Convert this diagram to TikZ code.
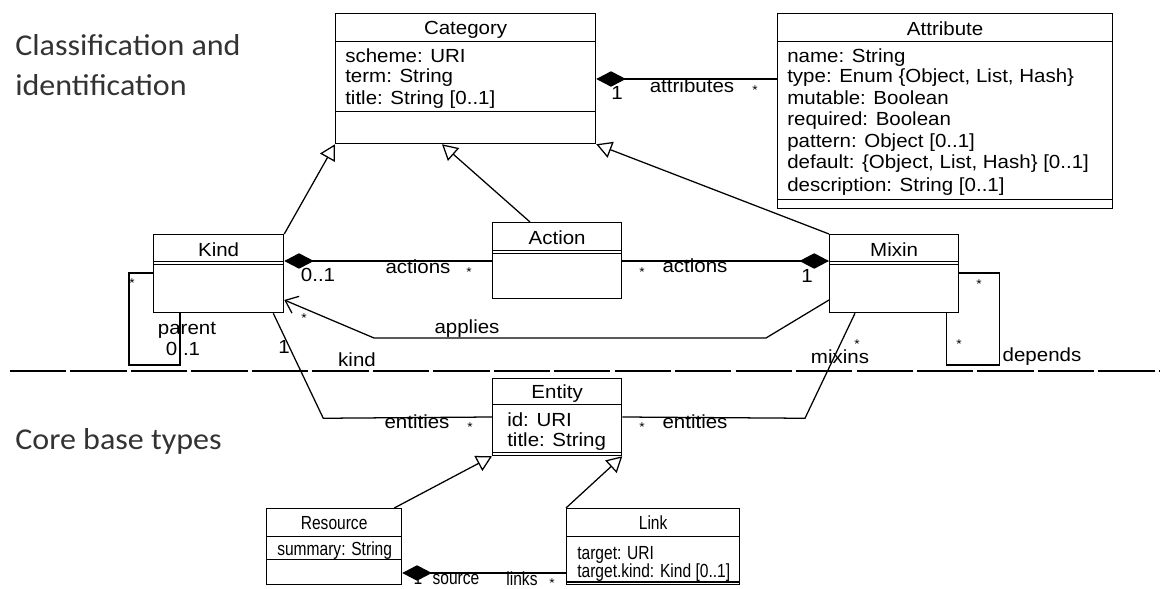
\documentclass[tikz,border=0pt]{standalone}
\usepackage{fontspec}
\usepackage{tikz}
\usetikzlibrary{arrows.meta,calc}
\newfontfamily\umlfont[FakeStretch=1.08]{Liberation Sans}
\newfontfamily\umlsmallfont[FakeStretch=0.82]{Liberation Sans}
\newfontfamily\titlefont[FakeStretch=1.06]{Carlito}
\newlength{\pxu}
\setlength{\pxu}{0.025cm}

\tikzset{
  classbox/.style={draw, line width=0.9pt, anchor=north west, inner sep=0pt},
  classname/.style={font=\umlfont\fontsize{13.5}{15}\selectfont, anchor=base, inner sep=0pt},
  attr/.style={font=\umlfont\fontsize{13.5}{15}\selectfont, anchor=base west, inner sep=0pt},
  lbl/.style={font=\umlfont\fontsize{13.5}{15}\selectfont, inner sep=0pt},
  small/.style={font=\umlsmallfont\fontsize{13.5}{15}\selectfont},
  mult/.style={font=\umlfont\fontsize{9}{10}\selectfont, inner sep=0pt},
  conn/.style={line width=0.9pt},
  gen/.style={conn, -{Triangle[open, length=11pt, width=12pt]}},
  comp/.style={conn, {Diamond[length=21pt, width=11pt]}-},
  uses/.style={conn, -{Straight Barb[length=8pt, width=13pt]}},
  sepline/.style={line width=0.9pt, dash pattern=on 40pt off 3pt},
  section/.style={font=\titlefont\fontsize{21.5}{25}\selectfont, text=black!80, anchor=base west, inner sep=0pt}
}

\begin{document}
\begin{tikzpicture}[x=0.025cm, y=-0.025cm]
\useasboundingbox (0,0) rectangle (1160,589);

% section titles
\node[section] (sec1) at (15,56) {Classification and};
\node[section] (sec2) at (15,96) {identification};
\node[section] (sec3) at (15,450) {Core base types};
\draw[sepline] (10,371) -- (1160,371);

% classes
\node[classbox, minimum width=260\pxu, minimum height=130\pxu] (cat) at (335,13) {};
\draw ($(cat.north west)+(0,28)$) -- ($(cat.north east)+(0,28)$);
\draw ($(cat.north west)+(0,98)$) -- ($(cat.north east)+(0,98)$);
\node[classname] (catname) at ($(cat.north)+(0,22)$) {Category};
\node[attr] (cat1) at (345,63) {scheme: URI};
\node[attr] (cat2) at (345,83) {term: String};
\node[attr] (cat3) at (345,105) {title: String [0..1]};

\node[classbox, minimum width=335\pxu, minimum height=195\pxu] (attr) at (777,13) {};
\draw ($(attr.north west)+(0,28)$) -- ($(attr.north east)+(0,28)$);
\draw ($(attr.north west)+(0,186)$) -- ($(attr.north east)+(0,186)$);
\node[classname] (attrname) at ($(attr.north)+(0,23)$) {Attribute};
\node[attr] (attr1) at (787,63) {name: String};
\node[attr] (attr2) at (787,83) {type: Enum \{Object, List, Hash\}};
\node[attr] (attr3) at (787,105) {mutable: Boolean};
\node[attr] (attr4) at (787,126) {required: Boolean};
\node[attr] (attr5) at (787,148) {pattern: Object [0..1]};
\node[attr] (attr6) at (787,169) {default: \{Object, List, Hash\} [0..1]};
\node[attr] (attr7) at (787,192) {description: String [0..1]};

\node[classbox, minimum width=130\pxu, minimum height=78\pxu] (kind) at (153,234) {};
\draw ($(kind.north west)+(0,27)$) -- ($(kind.north east)+(0,27)$);
\draw ($(kind.north west)+(0,30)$) -- ($(kind.north east)+(0,30)$);
\node[classname] (kindname) at ($(kind.north)+(0,23)$) {Kind};

\node[classbox, minimum width=129\pxu, minimum height=76\pxu] (action) at (492,222) {};
\draw ($(action.north west)+(0,28)$) -- ($(action.north east)+(0,28)$);
\draw ($(action.north west)+(0,31)$) -- ($(action.north east)+(0,31)$);
\node[classname] (actionname) at ($(action.north)+(0,23)$) {Action};

\node[classbox, minimum width=129\pxu, minimum height=78\pxu] (mixin) at (829,234) {};
\draw ($(mixin.north west)+(0,27)$) -- ($(mixin.north east)+(0,27)$);
\draw ($(mixin.north west)+(0,30)$) -- ($(mixin.north east)+(0,30)$);
\node[classname] (mixinname) at ($(mixin.north)+(0,23)$) {Mixin};

\node[classbox, minimum width=129\pxu, minimum height=77\pxu] (entity) at (492,378) {};
\draw ($(entity.north west)+(0,26)$) -- ($(entity.north east)+(0,26)$);
\draw ($(entity.north west)+(0,74)$) -- ($(entity.north east)+(0,74)$);
\node[classname] (entityname) at ($(entity.north)+(0,21)$) {Entity};
\node[attr] (ent1) at (507,427) {id: URI};
\node[attr] (ent2) at (507,447) {title: String};

\node[classbox, minimum width=135\pxu, minimum height=76\pxu] (res) at (266,508) {};
\draw ($(res.north west)+(0,28)$) -- ($(res.north east)+(0,28)$);
\draw ($(res.north west)+(0,51)$) -- ($(res.north east)+(0,51)$);
\node[classname, small] (resname) at ($(res.north)+(0,22)$) {Resource};
\node[attr, small] (res1) at (277,556) {summary: String};

\node[classbox, minimum width=173\pxu, minimum height=76\pxu] (link) at (566,508) {};
\draw ($(link.north west)+(0,28)$) -- ($(link.north east)+(0,28)$);
\draw[line width=1.6pt] ($(link.north west)+(0,74)$) -- ($(link.north east)+(0,74)$);
\node[classname, small] (linkname) at ($(link.north)+(0,22)$) {Link};
\node[attr, small] (link1) at (577,560) {target: URI};
\node[attr, small] (link2) at (577,578) {target.kind: Kind [0..1]};

% generalisations
\draw[gen] (kind.north east) -- (cat.south west);
\draw[gen] ($(action.north west)+(38,0)$) -- ($(cat.south west)+(107,0)$);
\draw[gen] (mixin.north west) -- (cat.south east);
\draw[gen] ($(res.north east)+(-8,0)$) -- (entity.south west);
\draw[gen] (link.north west) -- (entity.south east);

% compositions
\draw[comp] ($(cat.north east)+(0,66)$) -- ($(attr.north west)+(0,66)$);
\draw[comp] ($(kind.north east)+(0,27)$) -- ($(action.north west)+(0,39)$);
\draw[comp] ($(mixin.north west)+(0,27)$) -- ($(action.north east)+(0,39)$);
\draw[comp] ($(res.north east)+(0,65)$) -- ($(link.north west)+(0,65)$);

% associations
\draw[uses] ($(mixin.north west)+(0,66)$) -- ++(-63,38) -- ++(-392,0) -- ($(kind.north east)+(0,66)$);
\draw[conn] ($(kind.north west)+(0,39)$) -| ++(-24,92) -| ($(kind.south west)+(27,0)$);
\draw[conn] ($(mixin.north east)+(0,39)$) -| ++(40,92) -| ($(mixin.south east)+(-13,0)$);
\draw[conn] ($(kind.south east)+(-11,0)$) -- ++(50,105) -- ($(entity.north west)+(0,39)$);
\draw[conn] ($(mixin.south west)+(26,0)$) -- ++(-50,105) -- ($(entity.north east)+(0,39)$);

% role names and multiplicities
\node[lbl] (m1) at (617,93) {1};
\node[lbl] (r1) at (692,86) {attributes};
\node[mult] (m2) at (755,90) {*};
\node[lbl] (m3) at (318,275) {0..1};
\node[lbl] (r2) at (418,267) {actions};
\node[mult] (m4) at (469,272) {*};
\node[mult] (m5) at (642,272) {*};
\node[lbl] (r3) at (695,266) {actions};
\node[lbl] (m6) at (807,276) {1};
\node[mult] (m7) at (304,318) {*};
\node[lbl] (r4) at (467,329) {applies};
\node[mult] (m8) at (132,283) {*};
\node[lbl] (r5) at (187,330) {parent};
\node[lbl] (m9) at (183,349) {0..1};
\node[lbl] (m10) at (284,347) {1};
\node[lbl] (r6) at (357,360) {kind};
\node[lbl] (r7) at (417,422) {entities};
\node[mult] (m11) at (470,427) {*};
\node[mult] (m12) at (642,427) {*};
\node[lbl] (r8) at (695,422) {entities};
\node[mult] (m13) at (857,344) {*};
\node[lbl] (r9) at (840,357) {mixins};
\node[mult] (m14) at (979,284) {*};
\node[mult] (m15) at (959,344) {*};
\node[lbl] (r10) at (1042,357) {depends};
\node[lbl, small] (m16) at (418,578) {1};
\node[lbl, small] (r11) at (456,579) {source};
\node[lbl, small] (r12) at (522,579) {links};
\node[mult] (m17) at (552,583) {*};
\end{tikzpicture}
\end{document}
